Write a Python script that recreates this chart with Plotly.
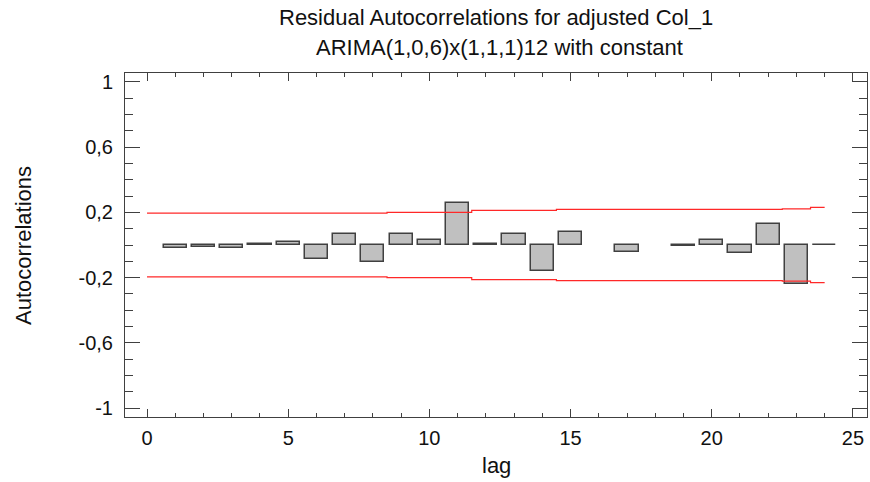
import plotly.graph_objects as go

# Residual autocorrelations by lag (lags 16 and 18 are not drawn)
lags = list(range(1, 25))
acf = [-0.02, -0.015, -0.02, 0.006, 0.02, -0.087, 0.065, -0.102, 0.065, 0.031,
       0.259, 0.004, 0.067, -0.161, 0.080, None, -0.04, None, -0.005, 0.031,
       -0.05, 0.127, -0.24, 0.002]

# 95% probability limits, one value per lag from 0 to 24
limit_lags = list(range(0, 25))
upper_limit = [0.195, 0.195, 0.195, 0.195, 0.195, 0.195, 0.195, 0.195, 0.195,
               0.200, 0.200, 0.200, 0.212, 0.212, 0.212, 0.218, 0.218, 0.218,
               0.218, 0.218, 0.218, 0.218, 0.218, 0.222, 0.231]
lower_limit = [-v for v in upper_limit]

# Axis ticks
x_tickvals = [0, 5, 10, 15, 20, 25]
y_tickvals = [-1, -0.6, -0.2, 0.2, 0.6, 1]
y_ticktext = ["-1", "-0,6", "-0,2", "0,2", "0,6", "1"]

FONT = "Liberation Sans, Arial, sans-serif"
FRAME = "#404040"

fig = go.Figure()

fig.add_trace(go.Bar(
    x=lags, y=acf, width=0.82,
    marker=dict(color="#c0c0c0", line=dict(color=FRAME, width=1.5)),
    showlegend=False, hoverinfo="x+y",
))

for lim in (upper_limit, lower_limit):
    fig.add_trace(go.Scatter(
        x=limit_lags, y=lim, mode="lines",
        line=dict(color="rgb(255,40,40)", width=1.2, shape="hvh"),
        showlegend=False, hoverinfo="skip",
    ))

axis_common = dict(
    showgrid=False, zeroline=False, showline=True, linecolor=FRAME, linewidth=1,
    mirror="ticks", ticks="inside", tickcolor=FRAME, tickwidth=1,
    tickfont=dict(family=FONT, size=20, color="#111"),
)

fig.update_xaxes(
    **axis_common, range=[-0.78, 25.5], tickvals=x_tickvals, ticklen=8,
    minor=dict(dtick=1, tick0=0, ticks="inside", ticklen=4, tickcolor=FRAME),
    ticklabelstandoff=3,
)
fig.update_yaxes(
    **axis_common, range=[-1.055, 1.055], tickvals=y_tickvals, ticktext=y_ticktext,
    ticklen=15,
    minor=dict(tickvals=[round(-1 + 0.1 * i, 2) for i in range(21)],
               ticks="inside", ticklen=8, tickcolor=FRAME),
    ticklabelstandoff=7,
)

annotations = [
    dict(text="Residual Autocorrelations for adjusted Col_1", x=0.5, y=1.16,
         xref="paper", yref="paper", xanchor="center", yanchor="middle",
         showarrow=False, font=dict(family=FONT, size=22, color="#111")),
    dict(text="ARIMA(1,0,6)x(1,1,1)12 with constant", x=0.505, y=1.073,
         xref="paper", yref="paper", xanchor="center", yanchor="middle",
         showarrow=False, font=dict(family=FONT, size=22, color="#111")),
    dict(text="lag", x=0.5, y=-0.1424, xref="paper", yref="paper",
         xanchor="center", yanchor="middle", showarrow=False,
         font=dict(family=FONT, size=22, color="#111")),
    dict(text="Autocorrelations", x=-0.1375, y=0.5, xref="paper", yref="paper",
         xanchor="center", yanchor="middle", textangle=-90, showarrow=False,
         font=dict(family=FONT, size=22, color="#111")),
]

fig.update_layout(
    width=870, height=482,
    margin=dict(l=125, r=3, t=73, b=65),
    paper_bgcolor="white", plot_bgcolor="white",
    bargap=0, annotations=annotations,
)

fig.write_html("out.html")
